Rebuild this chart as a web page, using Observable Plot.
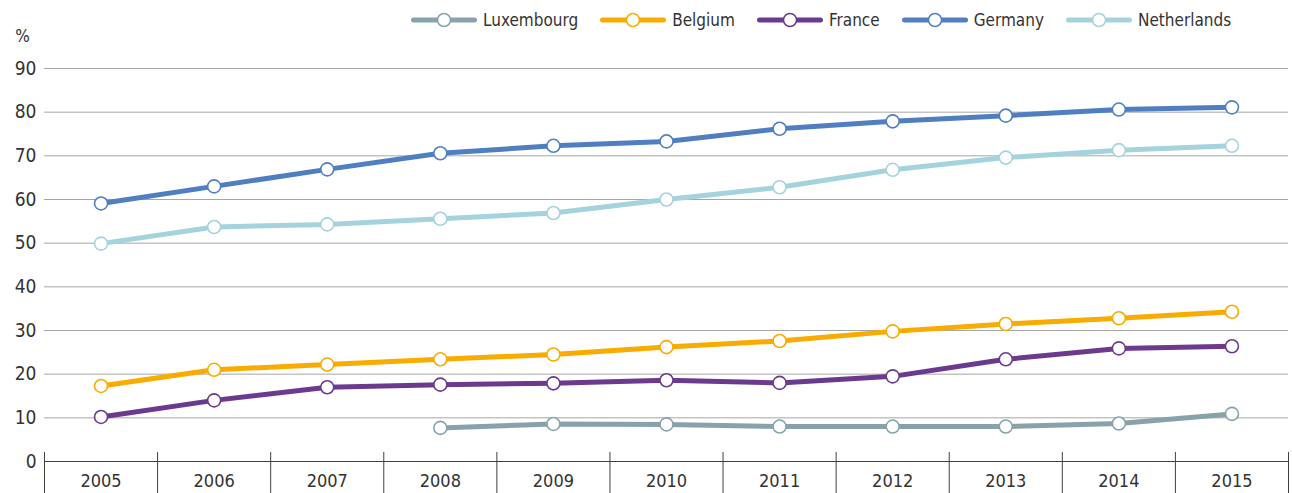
<!DOCTYPE html>
<html>
<head>
<meta charset="utf-8">
<script src="https://cdn.jsdelivr.net/npm/d3@7"></script>
<script src="https://cdn.jsdelivr.net/npm/@observablehq/plot@0.6"></script>
<style>
  body { margin: 0; background: #fff; }
  #wrap { width: 1292px; height: 493px; overflow: hidden; font-family: "DejaVu Sans Condensed", "Liberation Sans", sans-serif; color: #333; }
  #legend { box-sizing: border-box; height: 30px; padding-top: 10px; padding-left: 411px; display: flex; align-items: center; white-space: nowrap; }
  .item { display: flex; align-items: center; height: 20px; margin-right: 22px; }
  .item span { margin-left: 6px; font-size: 17px; line-height: 20px; }
  svg { display: block; }
</style>
</head>
<body>
<div id="wrap">
  <div id="legend"></div>
  <div id="chart"></div>
</div>
<script>
const years = [2005, 2006, 2007, 2008, 2009, 2010, 2011, 2012, 2013, 2014, 2015];
const seriesNames = ["Luxembourg", "Belgium", "France", "Germany", "Netherlands"];
const luxembourg  = [null, null, null, 7.7, 8.6, 8.5, 8.0, 8.0, 8.0, 8.7, 10.9];
const belgium     = [17.3, 21.0, 22.2, 23.4, 24.5, 26.2, 27.6, 29.8, 31.5, 32.8, 34.3];
const france      = [10.2, 14.0, 17.0, 17.6, 17.9, 18.6, 18.0, 19.5, 23.4, 25.9, 26.4];
const germany     = [59.1, 63.0, 66.9, 70.6, 72.3, 73.3, 76.2, 77.9, 79.2, 80.6, 81.1];
const netherlands = [49.9, 53.7, 54.3, 55.6, 56.9, 60.0, 62.8, 66.8, 69.6, 71.3, 72.3];
const yTicks = [0, 10, 20, 30, 40, 50, 60, 70, 80, 90];
const yUnit = "%";

const colors = ["#87a2ab", "#f9ab00", "#6b3a8f", "#4f7fc0", "#a5d3dd"];
const seriesValues = [luxembourg, belgium, france, germany, netherlands];

// Legend
const legend = document.getElementById("legend");
seriesNames.forEach((name, i) => {
  const item = document.createElement("div");
  item.className = "item";
  item.innerHTML = `<svg width="66" height="16"><line x1="2.5" x2="63.5" y1="8" y2="8" stroke="${colors[i]}" stroke-width="5" stroke-linecap="round"/><circle cx="33" cy="8" r="6.5" fill="#fff" stroke="${colors[i]}" stroke-width="1.5"/></svg><span>${name}</span>`;
  legend.appendChild(item);
});

const rows = [];
seriesNames.forEach((name, i) => {
  years.forEach((yr, j) => rows.push({country: name, year: yr, value: seriesValues[i][j]}));
});
const separators = [years[0] - 0.5, ...years.map(y => y + 0.5)];

const lineMarks = [];
const dotMarks = [];
seriesNames.forEach((name, i) => {
  const data = rows.filter(r => r.country === name);
  lineMarks.push(Plot.line(data, {x: "year", y: "value", stroke: colors[i], strokeWidth: 5, curve: "linear", strokeLinejoin: "round"}));
  dotMarks.push(Plot.dot(data.filter(d => d.value != null), {x: "year", y: "value", r: 6.5, fill: "#fff", stroke: colors[i], strokeWidth: 1.6}));
});

const chart = Plot.plot({
  width: 1292,
  height: 463,
  marginLeft: 44,
  marginRight: 4,
  marginTop: 38,
  marginBottom: 32,
  x: {type: "linear", domain: [years[0] - 0.5, years[years.length - 1] + 0.5]},
  y: {domain: [0, 90]},
  style: {fontFamily: '"DejaVu Sans Condensed", "Liberation Sans", sans-serif', fontSize: "19px", color: "#333", background: "#fff", overflow: "visible"},
  marks: [
    Plot.gridY(yTicks.filter(t => t > 0), {stroke: "#a6a6a6", strokeOpacity: 1, strokeWidth: 1}),
    Plot.axisY(yTicks, {tickSize: 0, tickPadding: 8, label: null, fontSize: 19, fill: "#333"}),
    Plot.axisX(years, {tickSize: 0, tickPadding: 13, label: null, tickFormat: d => String(d), fontSize: 18, fill: "#333"}),
    Plot.ruleY([0], {stroke: "#404040", strokeWidth: 1}),
    Plot.ruleX(separators, {y1: 2.06, y2: -7.4, stroke: "#404040", strokeWidth: 1}),
    ...lineMarks,
    ...dotMarks,
    Plot.text([yUnit], {frameAnchor: "top-left", dx: -22, dy: -32, textAnchor: "middle", lineAnchor: "middle", fontSize: 17, fill: "#333"})
  ]
});
document.getElementById("chart").appendChild(chart);
</script>
</body>
</html>
